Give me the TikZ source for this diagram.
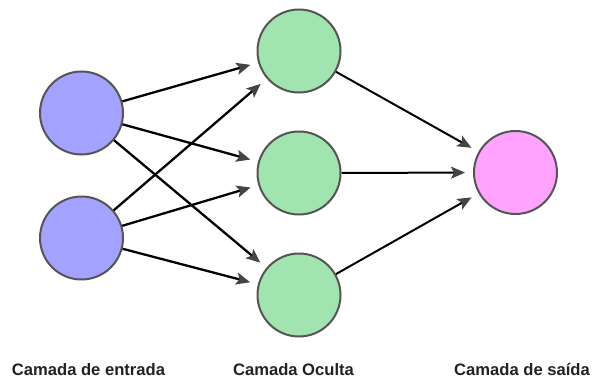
\documentclass[tikz,border=0pt]{standalone}
\usepackage{fontspec}
\setmainfont{Liberation Sans}
\usetikzlibrary{arrows.meta}
\definecolor{inblue}{HTML}{A3A3FF}
\definecolor{hidgreen}{HTML}{A2E4B0}
\definecolor{outpink}{HTML}{FFA3FF}
\definecolor{bordergray}{HTML}{555555}
\definecolor{tipgray}{HTML}{444444}
\definecolor{labelgray}{HTML}{222222}
\tikzset{
  neuron/.style={circle, draw=bordergray, line width=2pt, minimum size=83pt, inner sep=0pt},
  conn/.style={draw=black, line width=2.3pt, shorten >=8pt,
    -{Stealth[length=14pt, width=12pt, inset=3pt, color=tipgray]}},
  layerlabel/.style={font=\bfseries\fontsize{16.6}{19}\selectfont, text=labelgray, anchor=base}
}
\begin{document}
\begin{tikzpicture}[x=1pt, y=-1pt]
\useasboundingbox (0,0) rectangle (600,380);
\node[neuron, fill=inblue] (i1) at (81.5,113) {};
\node[neuron, fill=inblue] (i2) at (81.5,238) {};
\node[neuron, fill=hidgreen] (h1) at (299,51) {};
\node[neuron, fill=hidgreen] (h2) at (299,173) {};
\node[neuron, fill=hidgreen] (h3) at (299,295) {};
\node[neuron, fill=outpink] (o) at (515.5,172.5) {};
\foreach \s in {i1,i2} \foreach \t in {h1,h2,h3} \draw[conn] (\s) -- (\t);
\foreach \s in {h1,h2,h3} \draw[conn, line width=2pt] (\s) -- (o);
\node[layerlabel] (l1) at (88.5,375) {Camada de entrada};
\node[layerlabel] (l2) at (293.5,375) {Camada Oculta};
\node[layerlabel] (l3) at (522,375) {Camada de saída};
\end{tikzpicture}
\end{document}
